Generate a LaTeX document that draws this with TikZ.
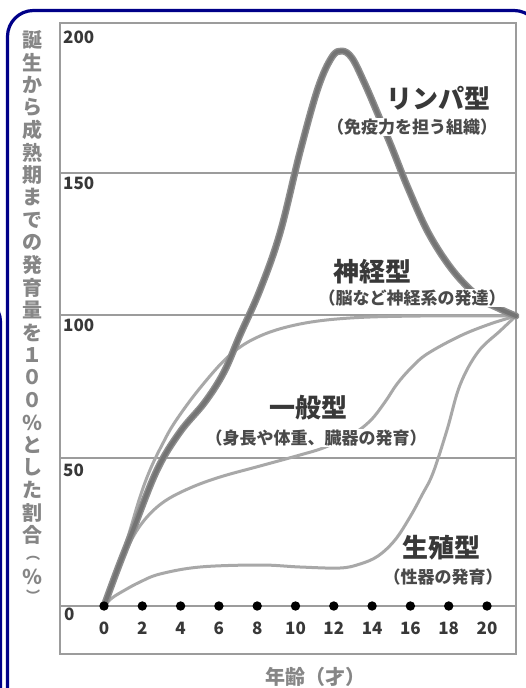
\documentclass[tikz,border=0pt]{standalone}
\usepackage{fontspec}
\setmainfont{Noto Sans CJK JP}
\definecolor{navy}{HTML}{000088}
\definecolor{gridc}{HTML}{9C9C9C}
\definecolor{lightc}{HTML}{A8A8A8}
\definecolor{lymphout}{HTML}{8E8E8E}
\definecolor{lymphin}{HTML}{747474}
\definecolor{txtc}{HTML}{383838}
\definecolor{subc}{HTML}{4A4A4A}
\definecolor{axtxt}{HTML}{868686}
\begin{document}
\begin{tikzpicture}[x=1pt,y=-1pt,
  frame/.style={draw=navy, line width=3.2pt, rounded corners=26pt},
  gridline/.style={draw=gridc, line width=1.4pt},
  curvelight/.style={draw=lightc, line width=3pt, line cap=round, line join=round},
  lymphA/.style={draw=lymphout, line width=7pt, line cap=round, line join=round},
  lymphB/.style={draw=lymphin, line width=4pt, line cap=round, line join=round},
  titletext/.style={text=txtc, font=\fontsize{26}{26}\selectfont\bfseries, inner sep=0pt},
  subtext/.style={text=subc, font=\fontsize{17}{17}\selectfont\bfseries, fill=white, inner sep=0.5pt},
  ytick/.style={text=txtc, font=\fontsize{17}{17}\selectfont\bfseries, anchor=west, inner sep=0pt},
  xtick/.style={text=txtc, font=\fontsize{17}{17}\selectfont\bfseries, inner sep=0pt},
  ytitle/.style={text=axtxt, font=\fontsize{20}{20}\selectfont\bfseries, inner sep=0pt},
  yparen/.style={text=axtxt, font=\fontsize{14}{14}\selectfont\bfseries, inner sep=0pt},
  dotnode/.style={circle, fill=black, minimum size=9.4pt, inner sep=0pt},
]
\fill[white] (0,0) rectangle (525,688);
\useasboundingbox (0,0) rectangle (525,688);
% frames
\draw[frame] (7.5,720) -- (7.5,10.5) -- (540,10.5) -- (540,720);
\draw[frame] (-40,296) -- (0.5,296) -- (0.5,720);
% chart box and grid
\draw[draw=gridc, line width=1.8pt] (60,23) rectangle (516,654);
\draw[gridline] (60,173) -- (516,173);
\draw[gridline] (60,315) -- (516,315);
\draw[gridline] (60,458) -- (516,458);
\draw[gridline] (60,606) -- (516,606);
% y tick labels
\node[ytick] (y200) at (63,37) {200};
\node[ytick] (y150) at (63,183) {150};
\node[ytick] (y100) at (63,325) {100};
\node[ytick] (y50) at (63,470) {50};
\node[ytick] (y0) at (64,614) {0};
% curves
\draw[curvelight] plot[smooth, tension=0.6] coordinates {(104,606) (115,575) (127,540) (140,497) (150,470) (162,445) (175,422) (200,388) (230,355) (260,336) (300,324) (350,318) (420,316) (516,316)};
\draw[curvelight] plot[smooth, tension=0.6] coordinates {(104,606) (110,590) (120,565) (133,537) (147,517) (165,501) (190,488) (220,477) (260,466) (300,455) (323,448) (350,436) (370,421) (385,402) (397,384) (411,368) (427,354) (460,336) (490,324) (516,316)};
\draw[curvelight] plot[smooth, tension=0.6] coordinates {(104,606) (112,598) (125,590) (140,582) (160,574) (200,567) (260,565) (300,567) (340,568) (360,564) (378,556) (395,540) (410,517) (422,495) (433,473) (447,430) (460,385) (478,352) (500,331) (516,316)};
\draw[lymphA] plot[smooth, tension=0.6] coordinates {(104,606) (118,568) (133,530) (157,470) (180,432) (205,402) (224,372) (240,335) (260,290) (280,233) (300,152) (318,88) (332,57) (342,51) (352,58) (364,82) (377,112) (392,148) (408,188) (429,234) (454,272) (480,298) (500,309) (516,316)};
\draw[lymphB] plot[smooth, tension=0.6] coordinates {(104,606) (118,568) (133,530) (157,470) (180,432) (205,402) (224,372) (240,335) (260,290) (280,233) (300,152) (318,88) (332,57) (342,51) (352,58) (364,82) (377,112) (392,148) (408,188) (429,234) (454,272) (480,298) (500,309) (516,316)};
% labels
\node[titletext] (lymT) at (438,98) {リンパ型};
\node[subtext] (lymS) at (412,127) {（免疫力を担う組織）};
\node[titletext] (neuT) at (372,272) {神経型};
\node[subtext] (neuS) at (412,298) {（脳など神経系の発達）};
\node[titletext] (genT) at (308,408) {一般型};
\node[subtext] (genS) at (316,438) {（身長や体重、臓器の発育）};
\node[titletext] (repT) at (441,548) {生殖型};
\node[subtext] (repS) at (443,577) {（性器の発育）};
% x axis dots and ticks
\foreach \k in {0,...,10} {
  \pgfmathtruncatemacro{\age}{2*\k}
  \node[dotnode] (d\k) at ({104+38.3*\k},606) {};
  \node[xtick] (xl\k) at ({104+38.3*\k},628) {\age};
}
% y axis title (vertical)
\foreach \c [count=\i] in {誕,生,か,ら,成,熟,期,ま,で,の,発,育,量,を,１,０,０,％,と,し,た,割,合} {
  \node[ytitle] (yt\i) at (33,{40+22.5*(\i-1)}) {\c};
}
\node[yparen] (ytpl) at (33,558) {︵};
\node[ytitle] (ytpc) at (33,577) {％};
\node[yparen] (ytpr) at (33,596) {︶};
% x axis title
\node[ytitle] (xtitle) at (315,677) {年齢（才）};
\end{tikzpicture}
\end{document}
